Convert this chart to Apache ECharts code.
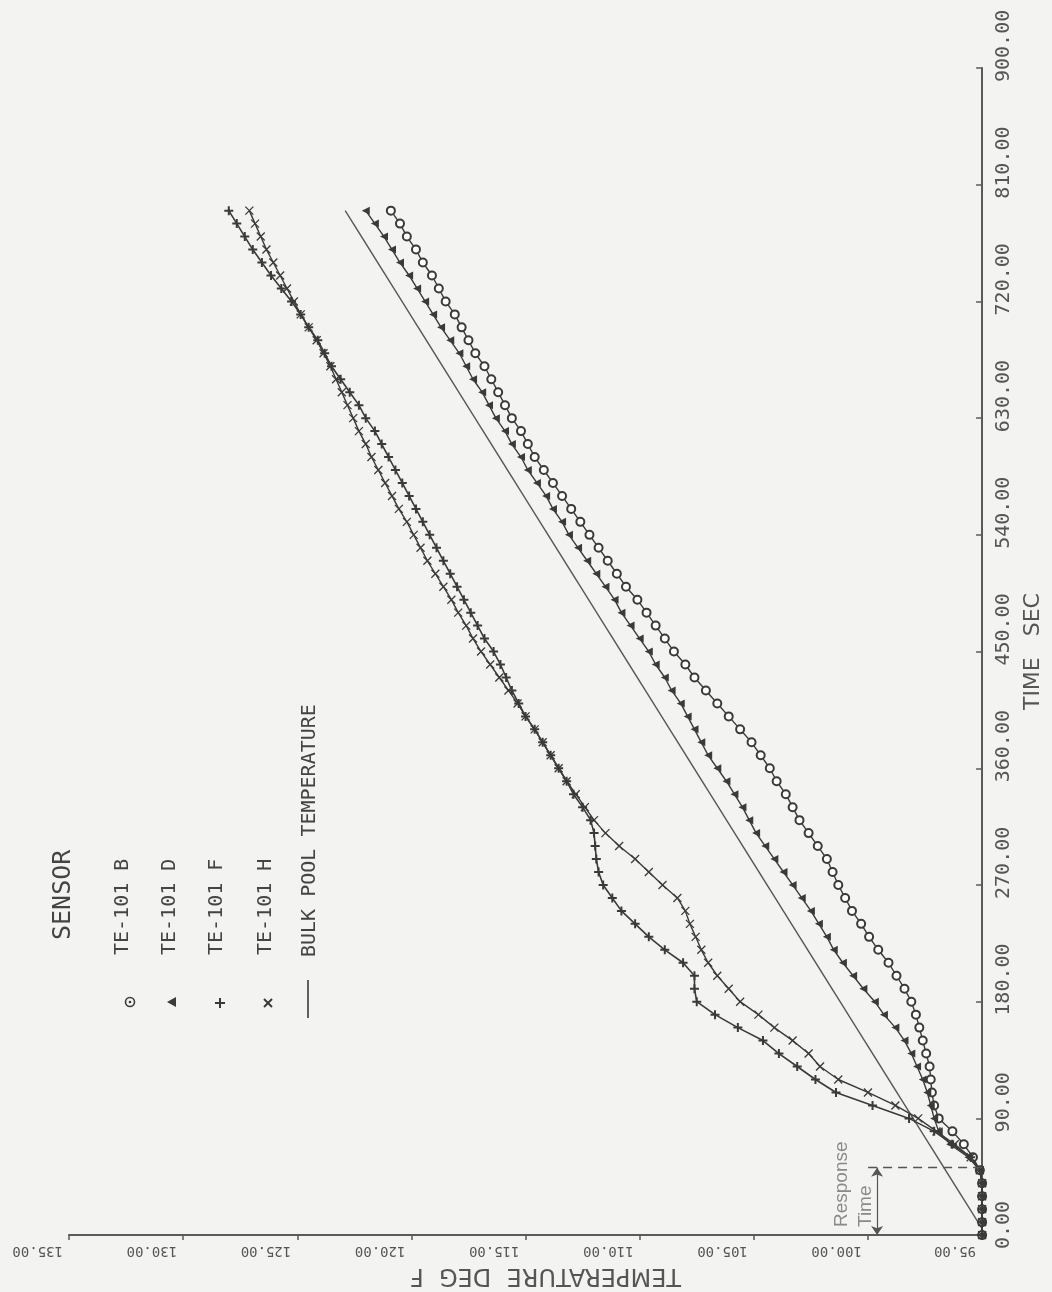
<!DOCTYPE html>
<html>
<head>
<meta charset="utf-8">
<script src="https://cdn.jsdelivr.net/npm/echarts@6/dist/echarts.min.js"></script>
<style>
  html, body { margin: 0; padding: 0; background: #f3f3f1; }
  #chart { width: 1052px; height: 1292px; }
</style>
</head>
<body>
<div id="chart"></div>
<script>
// Time (s) of each sensor sample
const times = [0,10,20,30,40,50,60,70,80,90,100,110,120,130,140,150,160,170,180,190,
  200,210,220,230,240,250,260,270,280,290,300,310,320,330,340,350,360,370,380,390,
  400,410,420,430,440,450,460,470,480,490,500,510,520,530,540,550,560,570,580,590,
  600,610,620,630,640,650,660,670,680,690,700,710,720,730,740,750,760,770,780,790];

// Sensor temperatures (deg F)
const te101B = [95.0,95.0,95.0,95.0,95.0, 95.1,95.4,95.8,96.3,96.9,
  97.1,97.2,97.25,97.3,97.45, 97.6,97.75,97.9,98.1,98.4,
  98.75,99.1,99.55,99.95,100.3, 100.7,101.0,101.3,101.55,101.8,
  102.2,102.6,103.0,103.3,103.6, 104.0,104.3,104.7,105.1,105.6,
  106.1,106.6,107.1,107.6,108.0, 108.5,108.9,109.3,109.7,110.1,
  110.6,111.0,111.4,111.8,112.2, 112.6,113.0,113.4,113.8,114.2,
  114.6,114.9,115.2,115.6,115.9, 116.2,116.5,116.8,117.2,117.5,
  117.8,118.1,118.5,118.8,119.1, 119.5,119.8,120.2,120.5,120.9];

const te101D = [95.0,95.0,95.0,95.0,95.0, 95.1,95.6,96.4,96.9,97.1,
  97.25,97.4,97.6,97.85,98.1, 98.4,98.8,99.3,99.7,100.2,
  100.65,101.1,101.5,101.8,102.15, 102.5,102.9,103.3,103.7,104.1,
  104.5,104.9,105.2,105.5,105.85, 106.2,106.6,107.0,107.3,107.6,
  107.9,108.2,108.6,108.9,109.3, 109.6,110.0,110.4,110.8,111.1,
  111.5,111.9,112.3,112.7,113.1, 113.4,113.8,114.1,114.5,114.9,
  115.2,115.6,115.9,116.3,116.6, 116.9,117.3,117.6,117.9,118.3,
  118.7,119.05,119.4,119.75,120.1, 120.5,120.85,121.2,121.6,122.0];

const te101F = [95.0,95.0,95.0,95.0,95.0, 95.1,95.5,96.3,97.1,98.2,
  99.8,101.4,102.3,103.1,103.9, 104.6,105.7,106.7,107.5,107.6,
  107.6,108.1,108.9,109.6,110.2, 110.8,111.2,111.6,111.8,111.9,
  111.95,112.0,112.15,112.5,112.9, 113.2,113.55,113.9,114.25,114.6,
  115.0,115.3,115.6,115.85,116.1, 116.4,116.8,117.1,117.4,117.7,
  118.0,118.3,118.6,118.9,119.2, 119.5,119.8,120.1,120.4,120.7,
  121.0,121.3,121.6,122.0,122.3, 122.7,123.1,123.5,123.8,124.1,
  124.5,124.85,125.25,125.7,126.15, 126.55,126.95,127.3,127.65,128.0];

const te101H = [95.0,95.0,95.0,95.0,95.0, 95.1,95.5,96.2,97.0,97.8,
  98.8,100.0,101.3,102.1,102.6, 103.3,104.1,104.8,105.6,106.1,
  106.6,107.0,107.3,107.55,107.8, 108.0,108.35,109.0,109.6,110.2,
  110.9,111.5,112.0,112.4,112.8, 113.2,113.55,113.9,114.25,114.6,
  115.0,115.35,115.75,116.15,116.55, 116.95,117.3,117.6,117.95,118.25,
  118.6,118.95,119.3,119.6,119.9, 120.2,120.55,120.85,121.15,121.45,
  121.75,122.0,122.3,122.55,122.8, 123.05,123.3,123.55,123.85,124.15,
  124.5,124.85,125.15,125.45,125.75, 126.05,126.35,126.6,126.85,127.1];

// Bulk pool temperature (straight line)
const bulkTimes = [5, 790];
const bulkTemps = [95.0, 122.9];

// Response time annotation
const responseTime = [52];
const responseDashTemps = [95.0, 100.1];
const responseArrowTemp = [99.6];

// Axis ticks
const tempTicks = [95, 100, 105, 110, 115, 120, 125, 130, 135];
const timeTicks = [0, 90, 180, 270, 360, 450, 540, 630, 720, 810, 900];

const legendNames = ['TE-101 B', 'TE-101 D', 'TE-101 F', 'TE-101 H', 'BULK POOL TEMPERATURE'];

const INK = '#3a3a3a';
const AXIS = '#5a5a5a';
const MONO = '"DejaVu Sans Mono", monospace';
const SANS = '"DejaVu Sans", sans-serif';

function pairs(temps, ts) { return ts.map((t, i) => [temps[i], t]); }

const plusPath = 'path://M5,0L5,10M0,5L10,5';
const crossPath = 'path://M0,0L10,10M10,0L0,10';

const chart = echarts.init(document.getElementById('chart'));
const option = {
  backgroundColor: '#f3f3f1',
  animation: false,
  grid: { left: 69, right: 51, top: 68, bottom: 55 },
  xAxis: {
    type: 'value', inverse: true, position: 'bottom',
    min: tempTicks[0], max: tempTicks[tempTicks.length - 1], interval: 5,
    splitLine: { show: false },
    axisLine: { show: true, lineStyle: { color: AXIS, width: 2 } },
    axisTick: { show: true, inside: false, length: 5, lineStyle: { color: AXIS, width: 1.5 } },
    axisLabel: {
      rotate: 180, margin: 9, align: 'left', verticalAlign: 'bottom',
      padding: [0, 0, 0, 6],
      fontFamily: MONO, fontSize: 14, color: '#555',
      formatter: v => v.toFixed(2)
    },
    name: 'TEMPERATURE  DEG  F', nameLocation: 'middle', nameGap: 26, nameRotate: 180,
    nameTextStyle: { fontFamily: SANS, fontSize: 24, color: '#555', padding: [0, 40, 0, 0], verticalAlign: 'bottom' }
  },
  yAxis: {
    type: 'value', position: 'right',
    min: timeTicks[0], max: timeTicks[timeTicks.length - 1], interval: 90,
    splitLine: { show: false },
    axisLine: { show: true, lineStyle: { color: AXIS, width: 2 } },
    axisTick: { show: true, inside: true, length: 6, lineStyle: { color: AXIS, width: 1.5 } },
    axisLabel: {
      rotate: 90, margin: 12, align: 'right', verticalAlign: 'top',
      fontFamily: MONO, fontSize: 20, color: '#555',
      formatter: v => '{t|' + v.toFixed(2) + '}',
      rich: { t: { width: 14, align: 'left', fontFamily: MONO, fontSize: 20, color: '#555' } }
    },
    name: 'TIME   SEC', nameLocation: 'middle', nameGap: 29, nameRotate: 90,
    nameTextStyle: { fontFamily: SANS, fontSize: 22, color: '#555', verticalAlign: 'top' }
  },
  series: [
    {
      name: 'BULK POOL TEMPERATURE', type: 'line', data: pairs(bulkTemps, bulkTimes),
      showSymbol: false, lineStyle: { color: '#555', width: 1.4 },
      markLine: {
        silent: true, animation: false,
        label: { show: false },
        data: [
          [
            { coord: [responseDashTemps[0], responseTime[0]], symbol: 'none', lineStyle: { type: [9, 6], color: '#555', width: 1.4 } },
            { coord: [responseDashTemps[1], responseTime[0]], symbol: 'none' }
          ],
          [
            { coord: [responseArrowTemp[0], 0], symbol: 'arrow', symbolSize: 9, lineStyle: { type: 'solid', color: '#555', width: 1.2 } },
            { coord: [responseArrowTemp[0], responseTime[0]], symbol: 'arrow', symbolSize: 9 }
          ]
        ]
      }
    },
    {
      name: 'TE-101 B', type: 'line', data: pairs(te101B, times),
      symbol: 'emptyCircle', symbolSize: 8,
      lineStyle: { color: INK, width: 1.4 },
      itemStyle: { color: INK, borderColor: INK, borderWidth: 1.3 }
    },
    {
      name: 'TE-101 D', type: 'line', data: pairs(te101D, times),
      symbol: 'triangle', symbolSize: 8, symbolRotate: 90,
      lineStyle: { color: INK, width: 1.4 },
      itemStyle: { color: INK }
    },
    {
      name: 'TE-101 F', type: 'line', data: pairs(te101F, times),
      symbol: plusPath, symbolSize: 9,
      lineStyle: { color: INK, width: 1.6 },
      itemStyle: { color: INK, borderColor: INK, borderWidth: 2 }
    },
    {
      name: 'TE-101 H', type: 'line', data: pairs(te101H, times),
      symbol: crossPath, symbolSize: 8,
      lineStyle: { color: INK, width: 1.4 },
      itemStyle: { color: INK, borderColor: INK, borderWidth: 1.3 }
    }
  ],
  graphic: [
    { type: 'text', x: 63, y: 940, rotation: Math.PI / 2,
      style: { text: 'SENSOR', font: '25px ' + MONO, fill: '#444', align: 'left', verticalAlign: 'middle' } },
    { type: 'text', x: 123, y: 955, rotation: Math.PI / 2,
      style: { text: legendNames[0], font: '20px ' + MONO, fill: '#444', align: 'left', verticalAlign: 'middle' } },
    { type: 'text', x: 170, y: 955, rotation: Math.PI / 2,
      style: { text: legendNames[1], font: '20px ' + MONO, fill: '#444', align: 'left', verticalAlign: 'middle' } },
    { type: 'text', x: 217, y: 955, rotation: Math.PI / 2,
      style: { text: legendNames[2], font: '20px ' + MONO, fill: '#444', align: 'left', verticalAlign: 'middle' } },
    { type: 'text', x: 266, y: 955, rotation: Math.PI / 2,
      style: { text: legendNames[3], font: '20px ' + MONO, fill: '#444', align: 'left', verticalAlign: 'middle' } },
    { type: 'text', x: 310, y: 957, rotation: Math.PI / 2,
      style: { text: legendNames[4], font: '20px ' + MONO, fill: '#444', align: 'left', verticalAlign: 'middle' } },
    // legend symbols
    { type: 'circle', shape: { cx: 130, cy: 1002, r: 4.5 }, style: { fill: 'none', stroke: INK, lineWidth: 1.6 } },
    { type: 'circle', shape: { cx: 130, cy: 1002, r: 1.3 }, style: { fill: INK } },
    { type: 'polygon', shape: { points: [[167, 1002], [176, 997], [176, 1007]] }, style: { fill: INK } },
    { type: 'line', shape: { x1: 215, y1: 1003, x2: 225, y2: 1003 }, style: { stroke: INK, lineWidth: 2 } },
    { type: 'line', shape: { x1: 220, y1: 998, x2: 220, y2: 1008 }, style: { stroke: INK, lineWidth: 2 } },
    { type: 'line', shape: { x1: 264, y1: 999, x2: 272, y2: 1007 }, style: { stroke: INK, lineWidth: 2 } },
    { type: 'line', shape: { x1: 272, y1: 999, x2: 264, y2: 1007 }, style: { stroke: INK, lineWidth: 2 } },
    { type: 'line', shape: { x1: 308, y1: 980, x2: 308, y2: 1018 }, style: { stroke: INK, lineWidth: 1.6 } },
    // response time note
    { type: 'text', x: 854, y: 1227, rotation: Math.PI / 2,
      style: { text: 'Response\nTime', font: '19px "Liberation Sans", sans-serif', lineHeight: 24,
               fill: '#8a8a8a', align: 'left', verticalAlign: 'middle' } }
  ]
};
chart.setOption(option);
</script>
</body>
</html>
